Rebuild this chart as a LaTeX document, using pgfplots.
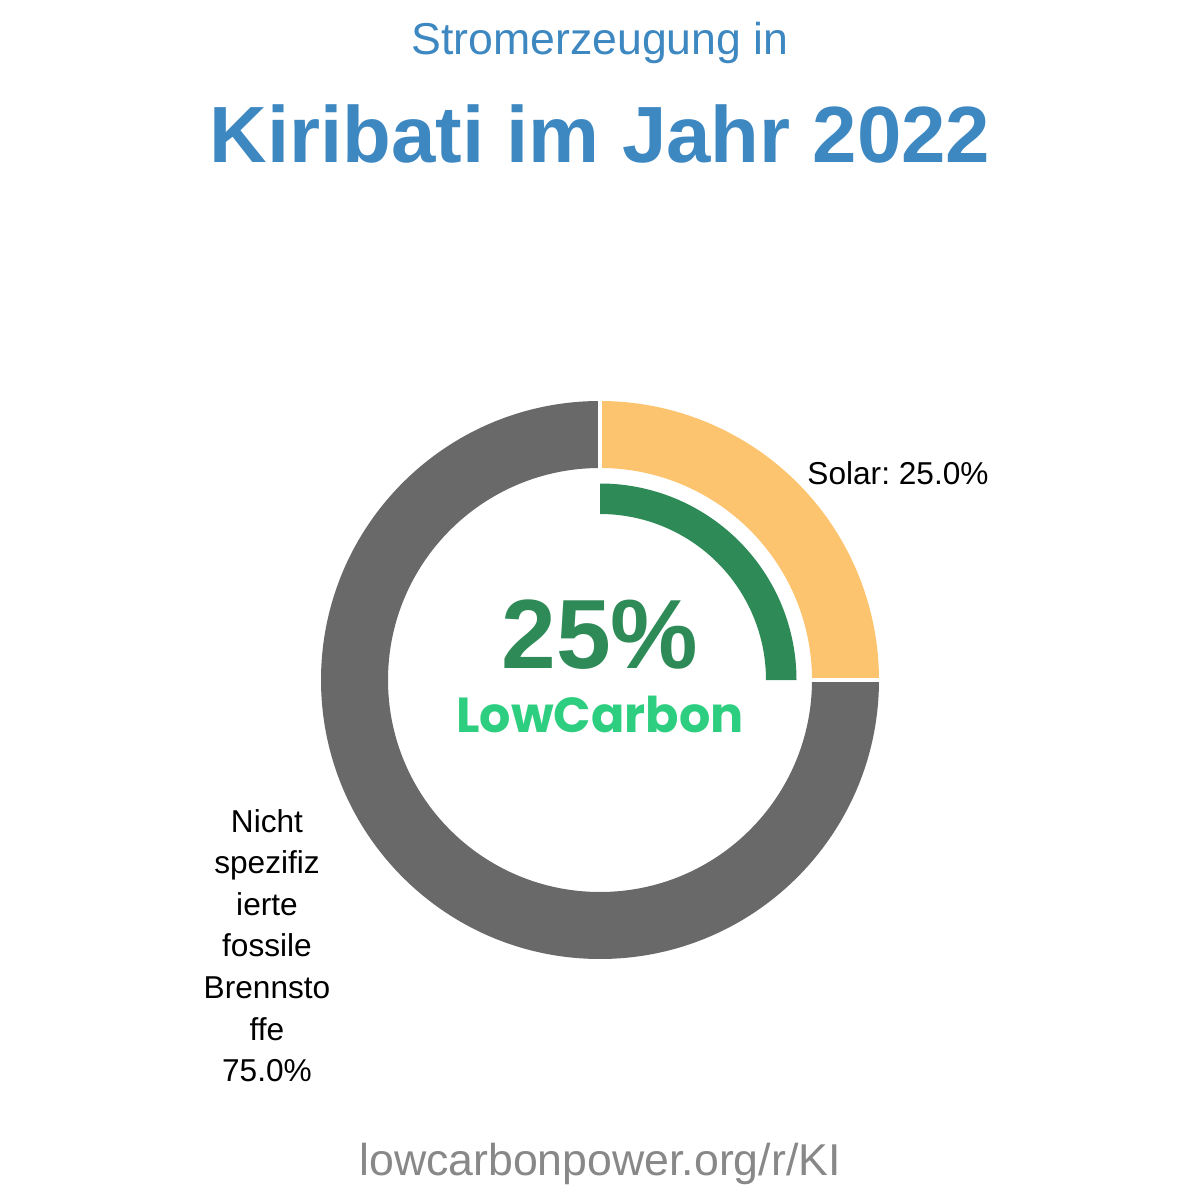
\documentclass[border=0pt]{standalone}
\usepackage{pgfplots}
\usepackage{pgfplotstable}
\pgfplotsset{compat=1.18}
\usepackage{fontspec}
\setmainfont{Liberation Sans}
\newfontfamily\logofont{Poppins}
\definecolor{titleblue}{RGB}{62,136,194}
\definecolor{solarc}{RGB}{253,196,112}
\definecolor{fossilc}{RGB}{105,105,105}
\definecolor{darkgreen}{RGB}{46,139,87}
\definecolor{logogreen}{RGB}{46,206,128}
\definecolor{footgray}{RGB}{136,136,136}
\frenchspacing
\begin{document}
\begin{tikzpicture}
\pgfplotstableread{
source value
Solar 25.0
Fossil 75.0
}\datatable
\pgfplotstablegetelem{0}{value}\of\datatable
\pgfmathsetmacro{\va}{\pgfplotsretval}
\pgfmathsetmacro{\aS}{90}
\pgfmathsetmacro{\aM}{90-3.6*\va}
\pgfmathsetmacro{\aE}{90-360}
\begin{axis}[width=12cm,height=12cm,scale only axis,
  xmin=0,xmax=1200,ymin=0,ymax=1200,hide axis,clip=false]
% solar slice
\fill[solarc] ([shift={(\aS:2.79cm)}]axis cs:600,520) arc[start angle=\aS,end angle=\aM,radius=2.79cm]
  -- ([shift={(\aM:2.12cm)}]axis cs:600,520) arc[start angle=\aM,end angle=\aS,radius=2.12cm] -- cycle;
% fossil slice
\fill[fossilc] ([shift={(\aM:2.79cm)}]axis cs:600,520) arc[start angle=\aM,end angle=\aE,radius=2.79cm]
  -- ([shift={(\aE:2.12cm)}]axis cs:600,520) arc[start angle=\aE,end angle=\aM,radius=2.12cm] -- cycle;
% separators
\draw[white,line width=1pt] ([shift={(\aS:2.10cm)}]axis cs:600,520) -- ([shift={(\aS:2.81cm)}]axis cs:600,520);
\draw[white,line width=1pt] ([shift={(\aM:2.10cm)}]axis cs:600,520) -- ([shift={(\aM:2.81cm)}]axis cs:600,520);
% low carbon arc
\fill[darkgreen] ([shift={(90:1.965cm)}]axis cs:600,520) arc[start angle=90,end angle=\aM,radius=1.965cm]
  -- ([shift={(\aM:1.66cm)}]axis cs:600,520) arc[start angle=\aM,end angle=90,radius=1.66cm] -- cycle;
% texts
\node[anchor=base,text=titleblue,font=\fontsize{12.7}{15}\selectfont] at (axis cs:600,1145) {Stromerzeugung in};
\node[anchor=base,text=titleblue,font=\fontsize{22.7}{27}\selectfont\bfseries] at (axis cs:600,1037) {Kiribati im Jahr 2022};
\node[anchor=base,text=black,font=\fontsize{9}{11}\selectfont] at (axis cs:898,716) {Solar: 25.0\%};
\node[anchor=base,text=darkgreen,font=\fontsize{28}{32}\selectfont\bfseries] at (axis cs:600,531) {25\%};
\node[anchor=base,text=logogreen,font=\fontsize{14}{16}\selectfont\logofont\bfseries] at (axis cs:600,468) {LowCarbon};
\node[anchor=base,text=footgray,font=\fontsize{12.7}{15}\selectfont] at (axis cs:600,25) {lowcarbonpower.org/r/KI};
\node[anchor=base,font=\fontsize{9}{11}\selectfont] at (axis cs:267,368) {Nicht};
\node[anchor=base,font=\fontsize{9}{11}\selectfont] at (axis cs:267,326.4) {spezifiz};
\node[anchor=base,font=\fontsize{9}{11}\selectfont] at (axis cs:267,284.8) {ierte};
\node[anchor=base,font=\fontsize{9}{11}\selectfont] at (axis cs:267,243.2) {fossile};
\node[anchor=base,font=\fontsize{9}{11}\selectfont] at (axis cs:267,201.6) {Brennsto};
\node[anchor=base,font=\fontsize{9}{11}\selectfont] at (axis cs:267,160) {ffe};
\node[anchor=base,font=\fontsize{9}{11}\selectfont] at (axis cs:267,118.4) {75.0\%};
\end{axis}
\pgfresetboundingbox
\path[use as bounding box] (0,0) rectangle (12,12);
\end{tikzpicture}
\end{document}
